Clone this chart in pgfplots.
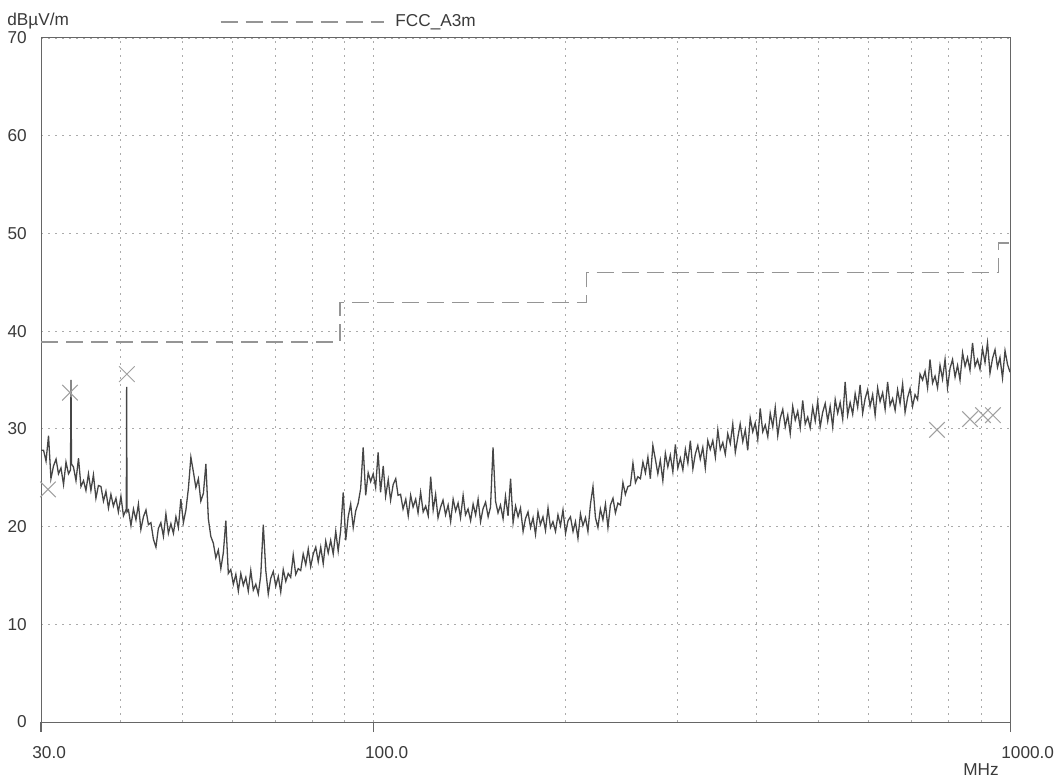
\documentclass[border=0pt]{standalone}
\usepackage{fontspec}
\setmainfont{Liberation Sans}
\usepackage{pgfplots}
\pgfplotsset{compat=1.18}
\definecolor{txt}{HTML}{3A3A3A}
\definecolor{trace}{HTML}{464646}
\definecolor{lim}{HTML}{959595}
\definecolor{gridc}{HTML}{ABABAB}
\definecolor{framec}{HTML}{666666}
\definecolor{mk}{HTML}{A0A0A0}
\newcommand{\lblfont}{\fontsize{8.6}{10}\selectfont}
\begin{document}
\begin{tikzpicture}
\path[use as bounding box] (-20.5pt,-29pt) rectangle (508.5pt,361pt);
\begin{axis}[
  at={(0,0)}, anchor=south west,
  scale only axis, width=484.5pt, height=342pt,
  xmode=log, log basis x=10,
  xmin=30, xmax=1000, ymin=0, ymax=70,
  xtick={30,100,1000}, xticklabels={30.0,100.0,1000.0},
  minor xtick={40,50,60,70,80,90,200,300,400,500,600,700,800,900},
  ytick={0,10,20,30,40,50,60,70},
  xtick pos=bottom, ytick pos=left,
  xmajorgrids, xminorgrids, ymajorgrids,
  grid style={gridc, dash pattern=on 1pt off 2.5pt, line width=0.4pt},
  minor grid style={gridc, dash pattern=on 1pt off 2.5pt, line width=0.4pt},
  major grid style={gridc, dash pattern=on 1pt off 2.5pt, line width=0.4pt},
  axis line style={framec, line width=0.5pt},
  tick align=outside, major tick length=5pt, minor tick length=0pt,
  ytick style={draw=none},
  xtick style={draw=framec, line width=0.5pt},
  tick label style={font=\lblfont, text=txt},
  xticklabel style={anchor=north west, inner sep=0pt, xshift=-4.5pt, yshift=-7pt},
  yticklabel style={anchor=east, inner sep=0pt, xshift=-2pt},
  /pgf/number format/assume math mode=true,
  legend style={draw=none, fill=none, at={(axis description cs:0,1)}, anchor=west,
    xshift=89.5pt, yshift=8pt, inner sep=0pt, outer sep=0pt, font=\lblfont, text=txt},
  legend cell align=left,
  legend image code/.code={\draw[#1] (0pt,0pt) -- (81.5pt,0pt); \path (85pt,0pt);},
]
\addplot[lim, dash pattern=on 8.5pt off 4pt, line width=0.7pt] coordinates {
(30,38.9) (88.5,38.9) (88.5,42.9) (216,42.9) (216,46.0) (960,46.0) (960,49.0) (1000,49.0)};
\addlegendentry{FCC\_A3m}
\addplot[trace, line width=0.65pt, forget plot] coordinates {
(30.00,27.8) (30.28,27.8) (30.55,26.7) (30.83,29.3)
(31.10,24.9) (31.39,26.2) (31.68,26.9) (31.96,25.4)
(32.25,26.0) (32.55,24.3) (32.84,26.6) (33.14,25.4)
(33.38,25.8) (33.44,35.0) (33.50,26.4) (33.74,26.1) (34.05,24.7) (34.36,27.0)
(34.67,24.1) (34.99,24.7) (35.30,23.7) (35.62,25.4)
(35.94,23.7) (36.27,25.3) (36.60,22.9) (36.93,24.2)
(37.27,24.1) (37.61,22.6) (37.95,23.6) (38.30,21.9)
(38.64,23.3) (38.99,22.1) (39.35,22.9) (39.70,21.5)
(40.06,23.1) (40.43,21.1) (40.85,21.8) (40.90,34.3) (40.95,21.5) (41.17,21.7)
(41.54,20.1) (41.92,21.8) (42.30,20.7) (42.68,22.3)
(43.06,19.7) (43.46,21.0) (43.86,21.7) (44.25,20.2)
(44.65,20.4) (45.06,18.7) (45.47,17.9) (45.87,19.8)
(46.29,20.4) (46.72,19.0) (47.14,21.3) (47.57,19.3)
(48.00,20.3) (48.44,19.3) (48.88,21.0) (49.32,19.9)
(49.76,22.8) (50.22,20.4) (50.68,21.7) (51.14,23.9)
(51.60,27.1) (52.07,25.6) (52.54,24.0) (53.02,24.9)
(53.49,22.6) (53.99,23.4) (54.48,26.4) (54.97,20.8)
(55.46,19.0) (55.97,18.3) (56.48,16.8) (56.99,17.6)
(57.51,15.7) (58.03,17.3) (58.56,20.6) (59.09,15.2)
(59.62,15.6) (60.17,14.1) (60.72,15.1) (61.27,13.4)
(61.82,15.2) (62.39,14.0) (62.95,14.8) (63.52,13.4)
(64.09,15.5) (64.68,13.5) (65.27,14.1) (65.86,13.1)
(66.45,15.0) (67.06,20.2) (67.67,15.5) (68.28,13.1)
(68.90,14.7) (69.53,15.4) (70.16,13.9) (70.80,14.9)
(71.43,13.3) (72.09,15.6) (72.75,14.4) (73.40,15.2)
(74.06,14.8) (74.74,17.1) (75.42,15.1) (76.11,15.7)
(76.79,15.5) (77.49,17.2) (78.20,16.1) (78.91,17.7)
(79.61,15.9) (80.35,17.2) (81.08,17.9) (81.81,16.4)
(82.55,17.9) (83.30,16.2) (84.06,18.5) (84.82,17.3)
(85.58,18.6) (86.37,17.2) (87.16,19.5) (87.94,17.5)
(88.73,19.6) (89.55,23.5) (90.37,18.6) (91.18,21.0)
(92.00,22.3) (92.85,19.9) (93.69,21.6) (94.54,22.4)
(95.39,23.9) (96.26,28.1) (97.14,23.2) (98.02,25.5)
(98.90,24.6) (99.81,25.4) (100.7,24.0) (101.6,27.6)
(102.5,23.5) (103.5,26.2) (104.4,23.1) (105.4,24.8)
(106.3,22.7) (107.3,24.3) (108.3,24.9) (109.2,23.2)
(110.2,23.3) (111.2,21.8) (112.3,22.8) (113.3,21.1)
(114.3,23.2) (115.3,22.0) (116.4,22.8) (117.4,21.4)
(118.5,23.5) (119.6,21.5) (120.7,22.1) (121.8,21.1)
(122.9,25.1) (124.0,21.7) (125.1,23.3) (126.2,20.9)
(127.4,22.0) (128.5,22.7) (129.7,21.2) (130.9,22.2)
(132.1,20.5) (133.3,22.8) (134.5,21.6) (135.7,22.4)
(136.9,20.9) (138.2,23.2) (139.4,21.2) (140.7,21.8)
(142.0,20.6) (143.3,22.3) (144.6,21.2) (145.9,22.8)
(147.2,20.5) (148.5,21.8) (149.9,22.5) (151.3,21.0)
(152.6,22.0) (154.0,28.1) (155.4,22.6) (156.8,21.4)
(158.2,22.2) (159.7,20.8) (161.1,23.1) (162.6,21.1)
(164.1,24.9) (165.6,20.4) (167.1,22.1) (168.6,21.0)
(170.1,21.9) (171.7,19.5) (173.2,20.8) (174.8,21.5)
(176.4,19.9) (178.0,20.9) (179.6,19.2) (181.2,21.5)
(182.8,20.2) (184.5,21.0) (186.2,19.6) (187.9,21.9)
(189.6,19.9) (191.3,20.5) (193.1,19.5) (194.8,21.2)
(196.6,20.1) (198.4,21.7) (200.2,19.3) (202.0,20.6)
(203.8,21.0) (205.7,19.5) (207.5,20.5) (209.4,18.8)
(211.3,21.3) (213.2,20.1) (215.2,20.9) (217.1,19.5)
(219.1,22.3) (221.1,24.1) (223.1,20.9) (225.1,19.9)
(227.1,21.8) (229.2,20.7) (231.3,22.3) (233.4,19.9)
(235.5,22.2) (237.7,22.9) (239.8,21.4) (242.0,22.4)
(244.2,22.2) (246.4,24.5) (248.6,23.3) (250.9,24.1)
(253.1,24.2) (255.5,26.5) (257.8,24.5) (260.1,25.1)
(262.5,24.9) (264.9,26.6) (267.3,25.5) (269.7,27.1)
(272.1,24.9) (274.6,28.3) (277.1,26.9) (279.6,25.4)
(282.1,26.8) (284.7,24.7) (287.3,27.5) (289.9,26.1)
(292.5,27.3) (295.2,25.6) (297.9,28.4) (300.6,26.0)
(303.3,27.0) (306.1,25.8) (308.9,27.9) (311.7,26.5)
(314.5,28.8) (317.4,25.9) (320.2,27.4) (323.1,28.3)
(326.0,26.9) (329.0,28.1) (332.0,26.0) (335.0,28.8)
(338.0,27.9) (341.1,28.8) (344.3,27.1) (347.4,29.9)
(350.5,27.9) (353.7,28.6) (356.9,27.4) (360.1,29.5)
(363.4,28.5) (366.7,30.5) (370.1,27.6) (373.4,29.1)
(376.7,30.5) (380.2,28.7) (383.7,29.9) (387.1,27.8)
(390.6,31.1) (394.2,29.7) (397.8,30.6) (401.4,28.9)
(405.0,32.1) (408.7,29.7) (412.4,30.4) (416.2,29.2)
(419.9,31.6) (423.8,30.2) (427.6,32.2) (431.5,29.3)
(435.4,31.1) (439.4,32.0) (443.4,30.2) (447.4,31.4)
(451.4,29.5) (455.5,32.3) (459.7,30.9) (463.8,31.8)
(468.0,30.1) (472.3,32.9) (476.6,30.5) (480.9,31.2)
(485.2,30.1) (489.7,32.2) (494.2,30.8) (498.6,32.8)
(503.1,30.2) (507.7,31.7) (512.3,32.6) (517.0,30.8)
(521.6,32.3) (526.4,30.2) (531.2,33.0) (536.0,31.6)
(540.8,32.7) (545.8,31.0) (550.7,34.8) (555.7,31.4)
(560.7,32.7) (565.9,31.5) (571.0,33.6) (576.2,32.2)
(581.3,34.5) (586.7,31.6) (592.0,33.1) (597.4,34.0)
(602.7,32.3) (608.3,33.5) (613.8,31.4) (619.4,34.2)
(624.9,32.8) (630.7,33.7) (636.4,32.0) (642.2,34.8)
(647.9,32.4) (653.9,33.1) (659.9,31.9) (665.8,34.0)
(671.8,32.6) (678.0,34.6) (684.1,31.7) (690.3,33.2)
(696.5,34.1) (702.9,32.3) (709.3,33.5) (715.7,33.0)
(722.1,35.6) (728.8,35.0) (735.4,35.9) (742.1,34.2)
(748.7,37.1) (755.6,34.7) (762.5,35.4) (769.4,34.2)
(776.3,36.5) (783.4,35.1) (790.6,37.1) (797.7,34.2)
(804.9,36.2) (812.3,37.1) (819.7,35.3) (827.1,36.5)
(834.5,35.0) (842.2,37.8) (849.9,36.4) (857.5,37.3)
(865.2,36.0) (873.2,38.8) (881.1,36.4) (889.1,37.1)
(897.0,36.1) (905.3,38.2) (913.5,36.8) (921.8,38.8)
(930.1,35.7) (938.6,37.2) (947.2,38.1) (955.7,36.3)
(964.3,37.3) (973.2,35.2) (982.1,38.0) (991.0,36.6) (1000,35.8)
};
\addplot[only marks, mark=x, mark size=5.5pt, mk, mark options={line width=0.5pt}, forget plot] coordinates {
(30.77,23.8) (33.32,33.7) (40.93,35.6) (767.9,29.9) (865.2,31.0) (906.8,31.4) (940.0,31.4)};
\end{axis}
\draw[framec, line width=0.5pt] (0pt,0pt) -- (0pt,-5pt) (166.35pt,0pt) -- (166.35pt,-5pt) (484.5pt,0pt) -- (484.5pt,-5pt);
\node[anchor=west, inner sep=0pt, font=\lblfont, text=txt] at (-17pt,350.5pt) {dBµV/m};
\node[anchor=center, inner sep=0pt, font=\lblfont, text=txt] at (470pt,-24pt) {MHz};
\end{tikzpicture}
\end{document}
